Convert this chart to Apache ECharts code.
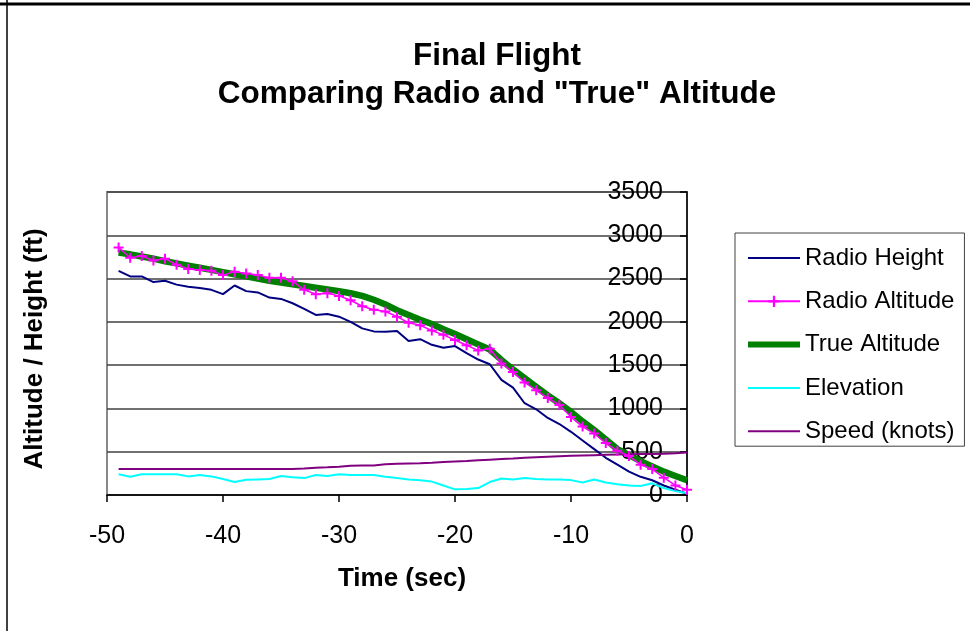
<!DOCTYPE html>
<html>
<head>
<meta charset="utf-8">
<script src="https://cdn.jsdelivr.net/npm/echarts@6/dist/echarts.min.js"></script>
<style>
  html, body { margin: 0; padding: 0; background: #fff; }
  #chart { width: 970px; height: 631px; }
</style>
</head>
<body>
<div id="chart"></div>
<script>
// time axis, one sample per second before impact
const times = [-49, -48, -47, -46, -45, -44, -43, -42, -41, -40,
    -39, -38, -37, -36, -35, -34, -33, -32, -31, -30,
    -29, -28, -27, -26, -25, -24, -23, -22, -21, -20,
    -19, -18, -17, -16, -15, -14, -13, -12, -11, -10,
    -9, -8, -7, -6, -5, -4, -3, -2, -1, 0];

const radioHeight = [2590, 2525, 2525, 2460, 2475, 2430, 2405, 2390, 2370, 2320,
    2420, 2355, 2340, 2280, 2265, 2215, 2150, 2080, 2090, 2060,
    2000, 1925, 1890, 1885, 1895, 1780, 1800, 1735, 1700, 1720,
    1640, 1565, 1510, 1330, 1240, 1060, 990, 890, 820, 730,
    630, 530, 430, 350, 270, 210, 170, 110, 60, 15];

const radioAltitude = [2860, 2740, 2760, 2710, 2730, 2660, 2610, 2600, 2590, 2540,
    2580, 2560, 2540, 2510, 2510, 2470, 2370, 2320, 2330, 2300,
    2250, 2180, 2140, 2120, 2060, 1990, 1960, 1900, 1850, 1790,
    1730, 1670, 1690, 1520, 1420, 1300, 1210, 1120, 1040, 900,
    790, 710, 600, 510, 450, 350, 300, 200, 110, 60];

const trueAltitude = [2800, 2780, 2755, 2730, 2700, 2675, 2650, 2625, 2600, 2575,
    2550, 2525, 2500, 2475, 2455, 2435, 2415, 2395, 2375, 2355,
    2330, 2300, 2255, 2200, 2135, 2080, 2025, 1975, 1915, 1860,
    1800, 1740, 1680, 1560, 1450, 1350, 1250, 1150, 1060, 960,
    850, 750, 640, 530, 460, 390, 330, 270, 220, 170];

const elevation = [240, 210, 240, 240, 240, 240, 215, 230, 215, 185,
    150, 175, 180, 185, 220, 205, 195, 230, 220, 240,
    230, 230, 230, 210, 195, 180, 170, 155, 110, 65,
    70, 80, 150, 190, 180, 195, 185, 180, 178, 172,
    145, 180, 145, 125, 110, 105, 135, 80, 45, 20];

const speed = [300, 300, 300, 300, 300, 300, 300, 300, 300, 300,
    300, 300, 300, 300, 300, 300, 305, 315, 320, 327,
    338, 340, 340, 355, 360, 365, 368, 373, 380, 386,
    392, 400, 408, 415, 422, 430, 437, 443, 448, 452,
    456, 460, 464, 468, 472, 474, 475, 476, 482, 490];

const FONT = 'Liberation Sans, Arial, sans-serif';
const NO_DOT = 'rgba(0,0,0,0)'; // legend shows only the line for these series

function pairs(values) {
    return times.map(function (t, i) { return [t, values[i]]; });
}

var myChart = echarts.init(document.getElementById('chart'));
var option = {
    animation: false,
    backgroundColor: '#fff',
    title: {
        text: 'Final Flight\nComparing Radio and "True" Altitude',
        left: 497,
        top: 37,
        padding: 0,
        textAlign: 'center',
        textStyle: {
            fontFamily: FONT,
            fontSize: 31.5,
            fontWeight: 'bold',
            color: '#000',
            lineHeight: 38
        }
    },
    legend: {
        orient: 'vertical',
        left: 735,
        top: 233,
        padding: [13, 10, 3, 10],
        itemWidth: 52,
        itemHeight: 14,
        itemGap: 19.3,
        borderColor: '#404040',
        borderWidth: 1,
        textStyle: { fontFamily: FONT, fontSize: 24, lineHeight: 24, color: '#000' },
        data: [
            { name: 'Radio Height', lineStyle: { width: 2 } },
            { name: 'Radio Altitude', lineStyle: { width: 2 } },
            { name: 'True Altitude', lineStyle: { width: 6 } },
            { name: 'Elevation', lineStyle: { width: 2 } },
            { name: 'Speed (knots)', lineStyle: { width: 2 } }
        ]
    },
    grid: {
        left: 107,
        right: 283,
        top: 192,
        bottom: 136,
        show: true,
        borderColor: '#888',
        borderWidth: 2
    },
    xAxis: {
        type: 'value',
        min: -50,
        max: 0,
        interval: 10,
        name: 'Time (sec)',
        nameLocation: 'middle',
        nameGap: 71,
        nameTextStyle: { fontFamily: FONT, fontSize: 26, fontWeight: 'bold', color: '#000', padding: [0, 0, 0, 10] },
        axisLine: { lineStyle: { color: '#000', width: 1.5 } },
        axisTick: { length: 7, lineStyle: { color: '#000', width: 1.5 } },
        axisLabel: { margin: 29, fontFamily: FONT, fontSize: 25, color: '#000' },
        splitLine: { show: false }
    },
    yAxis: {
        type: 'value',
        position: 'right',
        min: 0,
        max: 3500,
        interval: 500,
        axisLine: { show: true, lineStyle: { color: '#000', width: 1.5 } },
        axisTick: { show: true, inside: true, length: 7, lineStyle: { color: '#000', width: 1.5 } },
        axisLabel: {
            inside: true,
            margin: 24,
            fontFamily: FONT,
            fontSize: 25,
            color: '#000',
            formatter: function (value) { return String(value); }
        },
        splitLine: { lineStyle: { color: '#404040', width: 1.5 } }
    },
    graphic: [
        {
            type: 'text',
            x: 35,
            y: 349,
            rotation: Math.PI / 2,
            style: {
                text: 'Altitude / Height (ft)',
                fill: '#000',
                font: 'bold 26px ' + FONT,
                align: 'center',
                verticalAlign: 'middle'
            }
        },
        { type: 'line', shape: { x1: 0, y1: 4, x2: 970, y2: 4 }, style: { stroke: '#000', lineWidth: 3 } },
        { type: 'line', shape: { x1: 7, y1: 0, x2: 7, y2: 631 }, style: { stroke: '#000', lineWidth: 1.5 } }
    ],
    series: [
        {
            name: 'Radio Height',
            type: 'line',
            data: pairs(radioHeight),
            symbol: 'none',
            lineStyle: { color: '#000080', width: 2 },
            itemStyle: { color: NO_DOT },
            z: 3
        },
        {
            name: 'Radio Altitude',
            type: 'line',
            data: pairs(radioAltitude),
            symbol: 'path://M4,0H6V4H10V6H6V10H4V6H0V4H4Z',
            symbolSize: 10,
            lineStyle: { color: '#FF00FF', width: 1.5 },
            itemStyle: { color: '#FF00FF' },
            z: 4
        },
        {
            name: 'True Altitude',
            type: 'line',
            data: pairs(trueAltitude),
            symbol: 'none',
            lineStyle: { color: '#008000', width: 6.5 },
            itemStyle: { color: NO_DOT },
            z: 3
        },
        {
            name: 'Elevation',
            type: 'line',
            data: pairs(elevation),
            symbol: 'none',
            lineStyle: { color: '#00FFFF', width: 2 },
            itemStyle: { color: NO_DOT },
            z: 3
        },
        {
            name: 'Speed (knots)',
            type: 'line',
            data: pairs(speed),
            symbol: 'none',
            lineStyle: { color: '#800080', width: 2 },
            itemStyle: { color: NO_DOT },
            z: 3
        }
    ]
};
myChart.setOption(option);
</script>
</body>
</html>
